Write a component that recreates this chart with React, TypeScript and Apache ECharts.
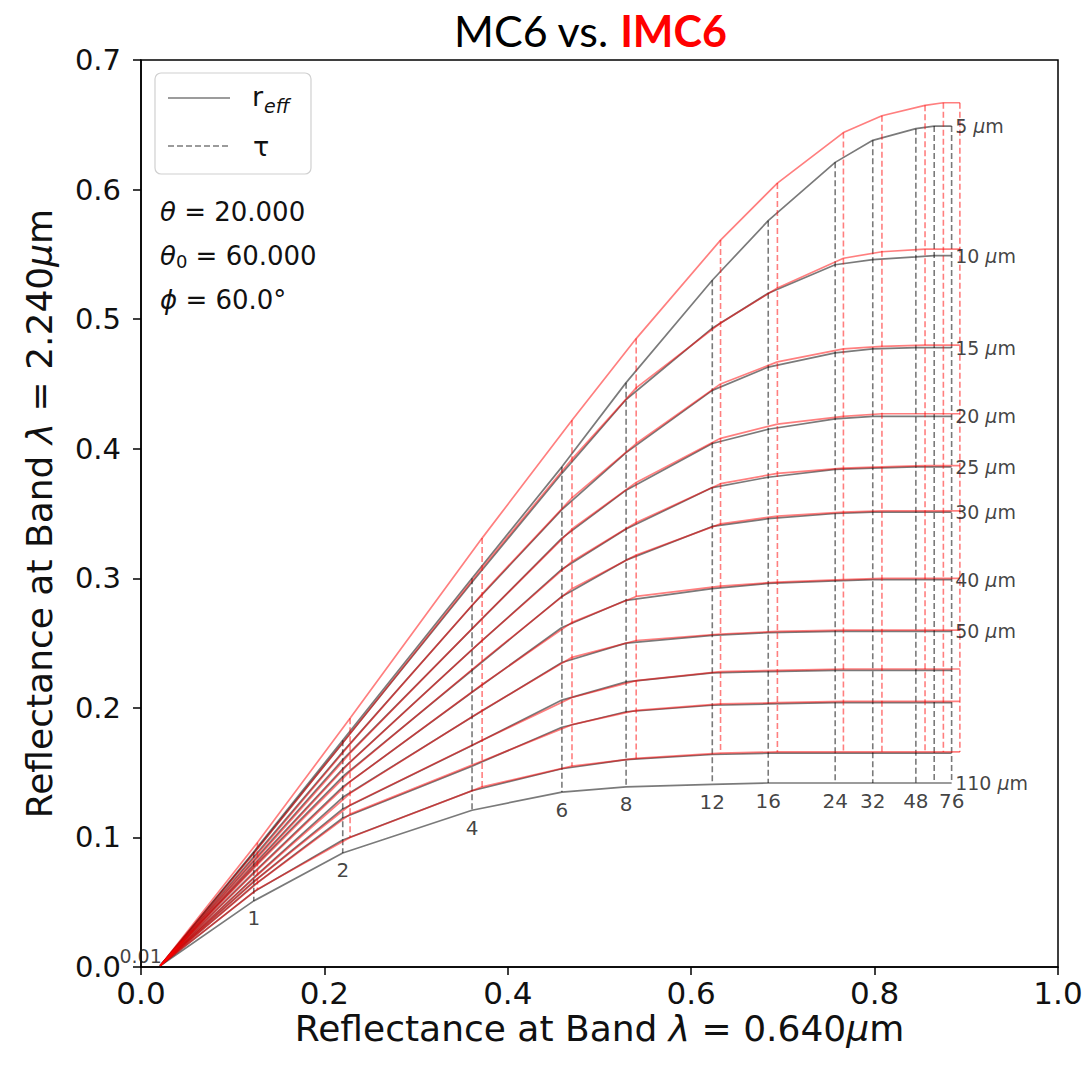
import React, { useEffect, useRef } from "react";
import * as echarts from "echarts";

// optical thickness grid and effective radii
const TAU = [0.01, 1, 2, 4, 6, 8, 12, 16, 24, 32, 48, 64, 76];
const TAU_LABELS = ["0.01", "1", "2", "4", "6", "8", "12", "16", "24", "32", "48", "", "76"];
const R_EFF = [5, 10, 15, 20, 25, 30, 40, 50, 60, 70, 80, 110];
const R_LABELED = [5, 10, 15, 20, 25, 30, 40, 50, 110];

// MC6 (gray): reflectance at 0.640 um for each tau
const MC6_X = [0.021, 0.123, 0.22, 0.361, 0.459, 0.529, 0.623, 0.684, 0.757, 0.798, 0.845, 0.865, 0.884];
// MC6: reflectance at 2.240 um per r_eff, for each tau
const MC6_R5 = [0.001, 0.089, 0.175, 0.3, 0.386, 0.451, 0.53, 0.576, 0.621, 0.638, 0.647, 0.649, 0.649];
const MC6_R10 = [0.001, 0.088, 0.173, 0.297, 0.381, 0.438, 0.493, 0.52, 0.542, 0.546, 0.548, 0.549, 0.549];
const MC6_R15 = [0.001, 0.085, 0.166, 0.279, 0.353, 0.397, 0.445, 0.463, 0.474, 0.477, 0.478, 0.478, 0.478];
const MC6_R20 = [0.001, 0.082, 0.16, 0.261, 0.331, 0.368, 0.404, 0.415, 0.423, 0.425, 0.425, 0.425, 0.425];
const MC6_R25 = [0.001, 0.079, 0.153, 0.245, 0.307, 0.338, 0.37, 0.378, 0.384, 0.385, 0.386, 0.386, 0.386];
const MC6_R30 = [0.001, 0.077, 0.147, 0.229, 0.286, 0.314, 0.34, 0.346, 0.35, 0.351, 0.351, 0.351, 0.351];
const MC6_R40 = [0.001, 0.073, 0.139, 0.212, 0.262, 0.283, 0.292, 0.296, 0.298, 0.299, 0.299, 0.299, 0.299];
const MC6_R50 = [0.001, 0.069, 0.131, 0.193, 0.235, 0.25, 0.256, 0.258, 0.259, 0.259, 0.259, 0.259, 0.259];
const MC6_R60 = [0.001, 0.066, 0.122, 0.171, 0.206, 0.22, 0.227, 0.228, 0.229, 0.229, 0.229, 0.229, 0.229];
const MC6_R70 = [0.001, 0.063, 0.115, 0.155, 0.185, 0.197, 0.202, 0.203, 0.204, 0.204, 0.204, 0.204, 0.204];
const MC6_R80 = [0.001, 0.058, 0.098, 0.136, 0.153, 0.16, 0.164, 0.165, 0.165, 0.165, 0.165, 0.165, 0.165];
const MC6_R110 = [0.001, 0.051, 0.088, 0.121, 0.135, 0.139, 0.141, 0.142, 0.142, 0.142, 0.142, 0.142, 0.142];

// IMC6 (red)
const IMC6_X = [0.021, 0.127, 0.228, 0.372, 0.47, 0.54, 0.632, 0.694, 0.766, 0.808, 0.855, 0.875, 0.893];
const IMC6_R5 = [0.001, 0.096, 0.192, 0.331, 0.422, 0.485, 0.561, 0.605, 0.644, 0.657, 0.665, 0.667, 0.667];
const IMC6_R10 = [0.001, 0.091, 0.18, 0.308, 0.392, 0.447, 0.497, 0.524, 0.547, 0.552, 0.554, 0.554, 0.554];
const IMC6_R15 = [0.001, 0.087, 0.172, 0.288, 0.362, 0.404, 0.45, 0.467, 0.477, 0.479, 0.48, 0.48, 0.48];
const IMC6_R20 = [0.001, 0.084, 0.165, 0.269, 0.338, 0.374, 0.408, 0.419, 0.425, 0.427, 0.427, 0.427, 0.427];
const IMC6_R25 = [0.001, 0.081, 0.158, 0.252, 0.313, 0.343, 0.373, 0.381, 0.385, 0.386, 0.387, 0.387, 0.387];
const IMC6_R30 = [0.001, 0.079, 0.151, 0.236, 0.292, 0.318, 0.342, 0.348, 0.351, 0.352, 0.352, 0.352, 0.352];
const IMC6_R40 = [0.001, 0.075, 0.143, 0.218, 0.266, 0.286, 0.294, 0.297, 0.299, 0.3, 0.3, 0.3, 0.3];
const IMC6_R50 = [0.001, 0.071, 0.134, 0.198, 0.239, 0.252, 0.257, 0.259, 0.26, 0.26, 0.26, 0.26, 0.26];
const IMC6_R60 = [0.001, 0.068, 0.125, 0.175, 0.208, 0.221, 0.228, 0.229, 0.23, 0.23, 0.23, 0.23, 0.23];
const IMC6_R70 = [0.001, 0.065, 0.118, 0.159, 0.187, 0.198, 0.203, 0.204, 0.205, 0.205, 0.205, 0.205, 0.205];
const IMC6_R80 = [0.001, 0.06, 0.1, 0.139, 0.155, 0.161, 0.165, 0.166, 0.166, 0.166, 0.166, 0.166, 0.166];

const X_TICKS = [0, 0.2, 0.4, 0.6, 0.8, 1.0];
const Y_TICKS = [0, 0.1, 0.2, 0.3, 0.4, 0.5, 0.6, 0.7];

const MC6_ROWS = [MC6_R5, MC6_R10, MC6_R15, MC6_R20, MC6_R25, MC6_R30, MC6_R40, MC6_R50, MC6_R60, MC6_R70, MC6_R80, MC6_R110];
const IMC6_ROWS = [IMC6_R5, IMC6_R10, IMC6_R15, IMC6_R20, IMC6_R25, IMC6_R30, IMC6_R40, IMC6_R50, IMC6_R60, IMC6_R70, IMC6_R80];

const GRAY = "rgba(0,0,0,0.52)";
const RED = "rgba(255,0,0,0.5)";
const FONT = "DejaVu Sans";
const INK = "#111";

function buildSeries(): any[] {
  const series: any[] = [];
  const addSet = (xs: number[], rows: number[][], color: string, tag: string) => {
    rows.forEach((row, i) => {
      series.push({
        name: `${tag} r${R_EFF[i]}`,
        type: "line",
        data: xs.map((x, j) => [x, row[j]]),
        symbol: "none",
        silent: true,
        lineStyle: { color, width: 1.7 },
        z: tag === "MC6" ? 2 : 3,
      });
    });
    TAU.forEach((t, j) => {
      series.push({
        name: `${tag} tau${t}`,
        type: "line",
        data: rows.map((row) => [xs[j], row[j]]),
        symbol: "none",
        silent: true,
        lineStyle: { color, width: 1.6, type: [6, 3] },
        z: tag === "MC6" ? 2 : 3,
      });
    });
  };
  addSet(MC6_X, MC6_ROWS, GRAY, "MC6");
  addSet(IMC6_X, IMC6_ROWS, RED, "IMC6");

  const last = TAU.length - 1;
  series.push({
    name: "r labels",
    type: "scatter",
    symbolSize: 1,
    itemStyle: { color: "transparent" },
    silent: true,
    z: 5,
    data: R_LABELED.map((r) => {
      const row = MC6_ROWS[R_EFF.indexOf(r)];
      return { name: String(r), value: [MC6_X[last], row[last]] };
    }),
    label: {
      show: true,
      position: "right",
      distance: 3,
      formatter: (p: any) => `{n|${p.name} }{u|μ}{n|m}`,
      rich: {
        n: { fontSize: 19, fontFamily: FONT, color: INK },
        u: { fontSize: 19, fontFamily: FONT, fontStyle: "italic", color: INK },
      },
    },
  });
  const lowRow = MC6_ROWS[MC6_ROWS.length - 1];
  series.push({
    name: "tau labels",
    type: "scatter",
    symbolSize: 1,
    itemStyle: { color: "transparent" },
    silent: true,
    z: 5,
    data: TAU.map((t, j) => {
      const item: any = { name: TAU_LABELS[j], value: [MC6_X[j], lowRow[j]] };
      if (j === 0) item.label = { position: "left", distance: 0, offset: [2, -10], fontSize: 19 };
      return item;
    }).filter((d) => d.name !== ""),
    label: {
      show: true,
      position: "bottom",
      distance: 7,
      formatter: (p: any) => p.name,
      fontSize: 20,
      fontFamily: FONT,
      color: INK,
    },
  });
  return series;
}

export default function App() {
  const ref = useRef<HTMLDivElement>(null);
  useEffect(() => {
    if (!ref.current) return;
    const chart = echarts.init(ref.current, undefined, { renderer: "svg" });
    const option: any = {
      animation: false,
      backgroundColor: "#fff",
      title: {
        text: "{a|MC6 vs. }{b|IMC6}",
        left: 449,
        top: 4,
        textStyle: {
          fontWeight: "normal",
          rich: {
            a: { fontSize: 43, fontFamily: "Lato", fontWeight: "normal", color: "#000" },
            b: { fontSize: 43, fontFamily: "Lato", fontWeight: "bold", color: "#ff0000" },
          },
        },
      },
      grid: {
        left: 141,
        right: 31,
        top: 60,
        bottom: 101,
        show: true,
        borderColor: "#000",
        borderWidth: 1.5,
        backgroundColor: "transparent",
      },
      xAxis: {
        type: "value",
        min: X_TICKS[0],
        max: X_TICKS[X_TICKS.length - 1],
        interval: 0.2,
        name: "Reflectance at Band {i|λ} = 0.640{i|μ}m",
        nameLocation: "middle",
        nameGap: 43,
        nameMoveOverlap: false,
        nameTextStyle: {
          fontSize: 36,
          fontFamily: FONT,
          color: INK,
          rich: { i: { fontSize: 36, fontFamily: FONT, fontStyle: "italic", color: INK } },
        },
        axisLine: { show: true, onZero: false, lineStyle: { color: "#000", width: 1.5 } },
        axisTick: { show: true, length: 8, lineStyle: { color: "#000", width: 1.5 } },
        axisLabel: {
          fontSize: 31,
          fontFamily: FONT,
          color: INK,
          margin: 10,
          formatter: (v: number) => v.toFixed(1),
        },
        splitLine: { show: false },
      },
      yAxis: {
        type: "value",
        min: Y_TICKS[0],
        max: Y_TICKS[Y_TICKS.length - 1],
        interval: 0.1,
        name: "Reflectance at Band {i|λ} = 2.240{i|μ}m",
        nameLocation: "middle",
        nameGap: 84,
        nameMoveOverlap: false,
        nameTextStyle: {
          fontSize: 36,
          fontFamily: FONT,
          color: INK,
          rich: { i: { fontSize: 36, fontFamily: FONT, fontStyle: "italic", color: INK } },
        },
        axisLine: { show: true, onZero: false, lineStyle: { color: "#000", width: 1.5 } },
        axisTick: { show: true, length: 8, lineStyle: { color: "#000", width: 1.5 } },
        axisLabel: {
          fontSize: 29,
          fontFamily: FONT,
          color: INK,
          margin: 20,
          formatter: (v: number) => v.toFixed(1),
        },
        splitLine: { show: false },
      },
      graphic: [
        {
          type: "rect",
          shape: { x: 155, y: 73, width: 156, height: 101, r: 6 },
          style: { fill: "rgba(255,255,255,0.85)", stroke: "#d0d0d0", lineWidth: 1.2 },
          z: 10,
        },
        {
          type: "line",
          shape: { x1: 168, y1: 98, x2: 230, y2: 98 },
          style: { stroke: GRAY, lineWidth: 1.7 },
          z: 11,
        },
        {
          type: "line",
          shape: { x1: 168, y1: 146, x2: 230, y2: 146 },
          style: { stroke: GRAY, lineWidth: 1.6, lineDash: [6, 3] },
          z: 11,
        },
        {
          type: "text",
          x: 252,
          y: 96,
          style: { text: "r", fontSize: 27, fontFamily: FONT, fill: INK, verticalAlign: "middle" },
          z: 11,
        },
        {
          type: "text",
          x: 264,
          y: 106,
          style: { text: "eff", fontSize: 19, fontFamily: FONT, fontStyle: "italic", fill: INK, verticalAlign: "middle" },
          z: 11,
        },
        {
          type: "text",
          x: 253,
          y: 146,
          style: { text: "τ", fontSize: 27, fontFamily: FONT, fill: INK, verticalAlign: "middle" },
          z: 11,
        },
        {
          type: "text",
          x: 160,
          y: 212,
          style: {
            text: "{i|θ} = 20.000",
            fontSize: 26,
            fontFamily: FONT,
            fill: INK,
            verticalAlign: "middle",
            rich: { i: { fontSize: 26, fontFamily: FONT, fontStyle: "italic", fill: INK } },
          },
          z: 11,
        },
        {
          type: "text",
          x: 160,
          y: 256,
          style: {
            text: "{i|θ}{s|0} = 60.000",
            fontSize: 26,
            fontFamily: FONT,
            fill: INK,
            verticalAlign: "middle",
            rich: {
              i: { fontSize: 26, fontFamily: FONT, fontStyle: "italic", fill: INK },
              s: { fontSize: 18, fontFamily: FONT, fill: INK, verticalAlign: "bottom", padding: [10, 0, 0, 0] },
            },
          },
          z: 11,
        },
        {
          type: "text",
          x: 160,
          y: 300,
          style: {
            text: "{i|ϕ} = 60.0°",
            fontSize: 26,
            fontFamily: FONT,
            fill: INK,
            verticalAlign: "middle",
            rich: { i: { fontSize: 26, fontFamily: FONT, fontStyle: "italic", fill: INK } },
          },
          z: 11,
        },
      ],
      series: buildSeries(),
    };
    chart.setOption(option);
    return () => chart.dispose();
  }, []);
  return (
    <div
      ref={ref}
      style={{ position: "absolute", left: 0, top: 0, width: 1089, height: 1068, background: "#fff" }}
    />
  );
}
